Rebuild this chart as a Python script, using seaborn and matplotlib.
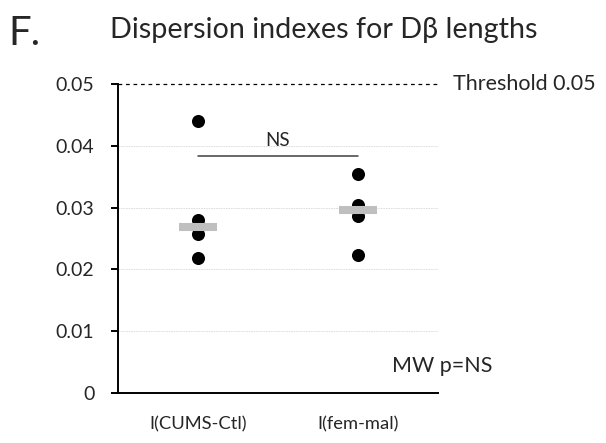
import numpy as np
import pandas as pd
import seaborn as sns
import matplotlib.pyplot as plt

# Data
groups = ['I(CUMS-Ctl)', 'I(fem-mal)']
cums_ctl = [0.0440, 0.0280, 0.0258, 0.0218]
fem_mal = [0.0355, 0.0304, 0.0287, 0.0224]
threshold = 0.05
ns_level = 0.0383
yticks = [0, 0.01, 0.02, 0.03, 0.04, 0.05]
ytick_labels = ['0', '0.01', '0.02', '0.03', '0.04', '0.05']

df = pd.DataFrame({
    'group': [groups[0]] * len(cums_ctl) + [groups[1]] * len(fem_mal),
    'index': cums_ctl + fem_mal,
})

sns.set_style('white')
plt.rcParams['font.family'] = ['Lato', 'DejaVu Sans']

fig = plt.figure(figsize=(6.06, 4.43), dpi=100)
ax = fig.add_axes([0.1947, 0.1129, 0.5281, 0.6975])

# light dotted grid + threshold line
for v in yticks[1:-1]:
    ax.axhline(v, color='#d9d9d9', lw=0.6, ls=(0, (2, 1)), zorder=0)
ax.axhline(threshold, color='black', lw=0.9, ls=(0, (3, 3)), zorder=1, clip_on=False)

sns.stripplot(data=df, x='group', y='index', order=groups, jitter=False,
              color='black', size=9.4, ax=ax, zorder=3)

# median bars
med = df.groupby('group')['index'].median()
for i, g in enumerate(groups):
    ax.hlines(med[g], i - 0.12, i + 0.12, color='#bfbfbf', lw=5.8, zorder=4)

# NS bracket
ax.plot([0, 1], [ns_level, ns_level], color='#404040', lw=1.1, zorder=2)
ax.text(0.5, ns_level + 0.0012, 'NS', ha='center', va='bottom', fontsize=13.5)

ax.set_xlim(-0.5, 1.5)
ax.set_ylim(0, 0.05)
ax.set_yticks(yticks)
ax.set_yticklabels(ytick_labels, fontsize=14)
ax.set_xticks([0, 1])
ax.set_xticklabels(groups, fontsize=13.2)
ax.set_xticks([-0.5, 0.5, 1.5], minor=True)
ax.tick_params(axis='x', which='major', length=0, pad=17)
ax.tick_params(axis='x', which='minor', length=5, width=1.4, direction='out', color='black')
ax.tick_params(axis='y', length=5, width=1.4, direction='out', color='black', pad=12, left=True)
ax.set_xlabel('')
ax.set_ylabel('')

for s in ['top', 'right']:
    ax.spines[s].set_visible(False)
for s in ['left', 'bottom']:
    ax.spines[s].set_color('black')
    ax.spines[s].set_linewidth(1.4)

ax.text(1.047, 1.0, 'Threshold 0.05', transform=ax.transAxes, ha='left', va='center', fontsize=15.5)
ax.text(0.856, 0.068, 'MW p=NS', transform=ax.transAxes, ha='left', va='baseline', fontsize=15.5)

fig.text(8 / 606, 1 - 45 / 443, 'F.', ha='left', va='baseline', fontsize=29)
fig.text(110 / 606, 1 - 38 / 443, 'Dispersion indexes for D\u03b2 lengths',
         ha='left', va='baseline', fontsize=20.7)

fig.savefig('out.png', dpi=100)
